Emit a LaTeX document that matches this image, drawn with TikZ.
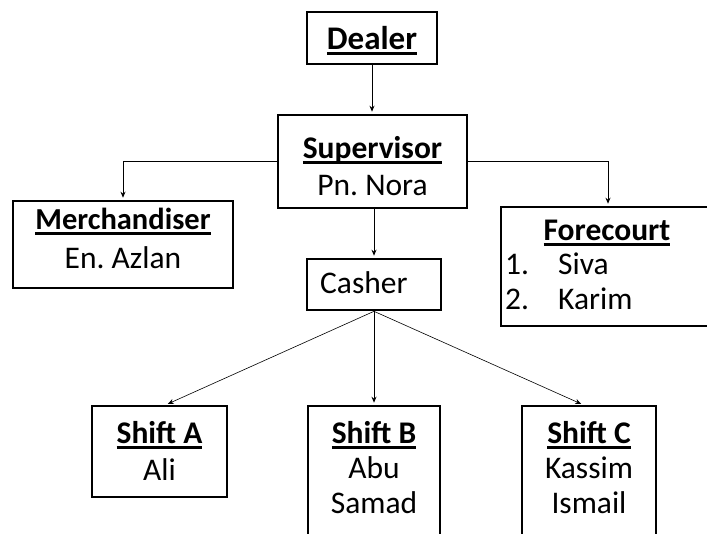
\documentclass[tikz,border=0pt]{standalone}
\usepackage{fontspec}
\setmainfont{Carlito}
\usetikzlibrary{arrows.meta,calc}
\newcommand\ulbox[1]{{\setbox0=\hbox{#1}\leavevmode\rlap{\copy0}\rule[-5.5pt]{\wd0}{2.4pt}}}
\frenchspacing
\begin{document}
\begin{tikzpicture}[x=1pt,y=-1pt,
  box/.style 2 args={draw,line width=2.6pt,inner sep=0pt,minimum width=#1pt,minimum height=#2pt},
  txt/.style={inner sep=0pt,anchor=base,font=\fontsize{31.5}{36}\selectfont},
  conn/.style={line width=0.8pt,-{Stealth[length=6pt,width=5pt]},shorten >=2pt}]
\useasboundingbox (0,0) rectangle (707,533);
\clip (0,0) rectangle (707,533);
% boxes
\node[box={130}{52}] (dealer) at (372,38) {};
\node[box={189}{93}] (sup) at (372.5,161.5) {};
\node[box={220}{87}] (mer) at (123,244.5) {};
\node[box={214}{119}] (fore) at (608,266.5) {};
\node[box={134}{51}] (cash) at (374,284.5) {};
\node[box={135}{91}] (sa) at (159.5,451.5) {};
\node[box={132}{150}] (sb) at (374,481) {};
\node[box={134}{150}] (sc) at (589,481) {};
% texts
\node[txt,font=\fontsize{33}{36}\selectfont] (dealerT) at (372,49) {\textbf{\ulbox{Dealer}}};
\node[txt] (supT1) at (372.5,158) {\textbf{\ulbox{Supervisor}}};
\node[txt] (supT2) at (372.5,195) {Pn. Nora};
\node[txt,font=\fontsize{30.5}{36}\selectfont] (merT1) at (123,229) {\textbf{\ulbox{Merchandiser}}};
\node[txt] (merT2) at (123,268) {En. Azlan};
\node[txt] (foreT) at (607,240) {\textbf{\ulbox{Forecourt}}};
\node[txt,anchor=base west] (foreN1) at (505,274) {1.};
\node[txt,anchor=base west] (foreL1) at (558,274) {Siva};
\node[txt,anchor=base west] (foreN2) at (505,309) {2.};
\node[txt,anchor=base west] (foreL2) at (558,309) {Karim};
\node[txt,anchor=base west] (cashT) at (320,293) {Casher};
\node[txt] (saT1) at (159.5,443) {\textbf{\ulbox{Shift A}}};
\node[txt] (saT2) at (159.5,480) {Ali};
\node[txt] (sbT1) at (374,443) {\textbf{\ulbox{Shift B}}};
\node[txt] (sbT2) at (374,478) {Abu};
\node[txt] (sbT3) at (374,513) {Samad};
\node[txt] (scT1) at (589,443) {\textbf{\ulbox{Shift C}}};
\node[txt] (scT2) at (589,478) {Kassim};
\node[txt] (scT3) at (589,513) {Ismail};
% connectors
\draw[conn] (dealer.south) -- (dealer.south |- sup.north);
\draw[conn] (sup.west) -| (mer.north);
\draw[conn] (sup.east) -| (fore.north);
\draw[conn] (cash.north |- sup.south) -- (cash.north);
\coordinate (saTip) at ($(sa.north)+(6.5,0)$);
\coordinate (scTip) at ($(sc.north)+(-6,0)$);
\draw[conn,line width=0.6pt] (cash.south) -- (saTip);
\draw[conn] (cash.south) -- (sb.north);
\draw[conn,line width=0.6pt] (cash.south) -- (scTip);
\end{tikzpicture}
\end{document}
